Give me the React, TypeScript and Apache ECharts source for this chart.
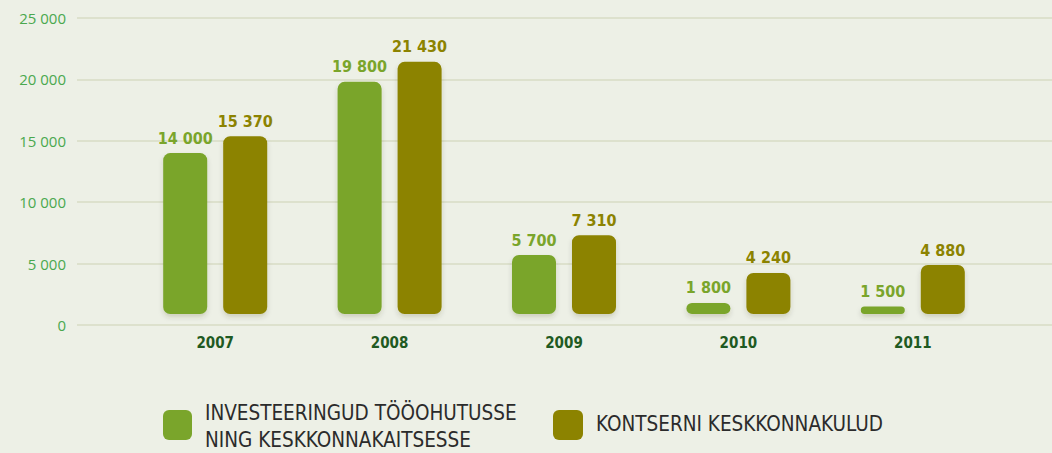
import React, { useEffect, useRef } from "react";
import * as echarts from "echarts";

const years = ["2007", "2008", "2009", "2010", "2011"];
const investments = [14000, 19800, 5700, 1800, 1500];
const envCosts = [15370, 21430, 7310, 4240, 4880];
const seriesNames = ["INVESTEERINGUD TÖÖOHUTUSSE\nNING KESKKONNAKAITSESSE", "KONTSERNI KESKKONNAKULUD"];
const yTicks = [0, 5000, 10000, 15000, 20000, 25000];

const GREEN = "#7aa52b";
const OLIVE = "#8c8300";
const BG = "#edf0e6";

const fmt = (v: number) => String(v).replace(/\B(?=(\d{3})+(?!\d))/g, " ");

function makeRender(offset: number, color: string) {
  return (params: any, api: any) => {
    const cat = api.value(0);
    const val = api.value(1);
    const top = api.coord([cat, val]);
    const base = api.coord([cat, 0]);
    const w = 44;
    const x = top[0] + offset - w / 2;
    const bottom = base[1] - 11;
    const h = Math.max(bottom - top[1], 2);
    return {
      type: "group",
      children: [
        {
          type: "rect",
          shape: { x, y: bottom - h, width: w, height: h, r: 7 },
          style: {
            fill: color,
            shadowBlur: 5,
            shadowOffsetY: 3,
            shadowColor: "rgba(60,60,20,0.18)",
          },
        },
        {
          type: "text",
          style: {
            text: fmt(val),
            x: top[0] + offset,
            y: bottom - h - 7,
            align: "center",
            verticalAlign: "bottom",
            fill: color,
            font: "bold 16px 'DejaVu Sans Condensed', 'Open Sans', sans-serif",
          },
        },
      ],
    };
  };
}

export default function App() {
  const ref = useRef<HTMLDivElement>(null);
  useEffect(() => {
    document.body.style.margin = "0";
    const chart = echarts.init(ref.current!, null, { renderer: "svg" });
    chart.setOption({
      animation: false,
      backgroundColor: BG,
      grid: [
        { left: 77, right: 0, top: 18, bottom: 128 },
        { left: 128, right: 52, top: 18, bottom: 128 },
      ],
      xAxis: [
        { gridIndex: 0, type: "value", show: false, min: 0, max: 1 },
        {
          gridIndex: 1,
          type: "category",
          data: years,
          axisLine: { show: false },
          axisTick: { show: false },
          axisLabel: {
            color: "#1f5a22",
            fontWeight: "bold",
            fontSize: 15,
            margin: 10,
            fontFamily: "'DejaVu Sans Condensed', 'Open Sans', sans-serif",
          },
        },
      ],
      yAxis: [
        {
          gridIndex: 0,
          type: "value",
          min: yTicks[0],
          max: yTicks[yTicks.length - 1],
          interval: 5000,
          axisLine: { show: false },
          axisTick: { show: false },
          splitLine: { lineStyle: { color: "#d7dcc4", width: 1.5 } },
          axisLabel: {
            color: "#4aa84e",
            fontSize: 15,
            margin: 11,
            fontFamily: "'Open Sans', sans-serif",
            formatter: (v: number) => fmt(v),
          },
        },
        { gridIndex: 1, type: "value", show: false, min: 0, max: 25000 },
      ],
      series: [
        {
          type: "custom",
          name: seriesNames[0],
          xAxisIndex: 1,
          yAxisIndex: 1,
          renderItem: makeRender(-30, GREEN),
          data: investments.map((v, i) => [i, v]),
        },
        {
          type: "custom",
          name: seriesNames[1],
          xAxisIndex: 1,
          yAxisIndex: 1,
          renderItem: makeRender(30, OLIVE),
          data: envCosts.map((v, i) => [i, v]),
        },
      ],
      graphic: [
        { type: "rect", left: 163, top: 410, shape: { width: 29, height: 30, r: 6 }, style: { fill: GREEN } },
        {
          type: "text",
          left: 205,
          top: 399,
          style: {
            text: seriesNames[0],
            fill: "#2b2b2b",
            font: "300 20.5px 'DejaVu Sans Condensed', 'Open Sans', sans-serif",
            lineHeight: 27,
          },
        },
        { type: "rect", left: 553, top: 410, shape: { width: 30, height: 30, r: 6 }, style: { fill: OLIVE } },
        {
          type: "text",
          left: 596,
          top: 413,
          style: {
            text: seriesNames[1],
            fill: "#2b2b2b",
            font: "300 20.5px 'DejaVu Sans Condensed', 'Open Sans', sans-serif",
          },
        },
      ],
    });
    return () => chart.dispose();
  }, []);
  return <div ref={ref} style={{ width: 1052, height: 453 }} />;
}
